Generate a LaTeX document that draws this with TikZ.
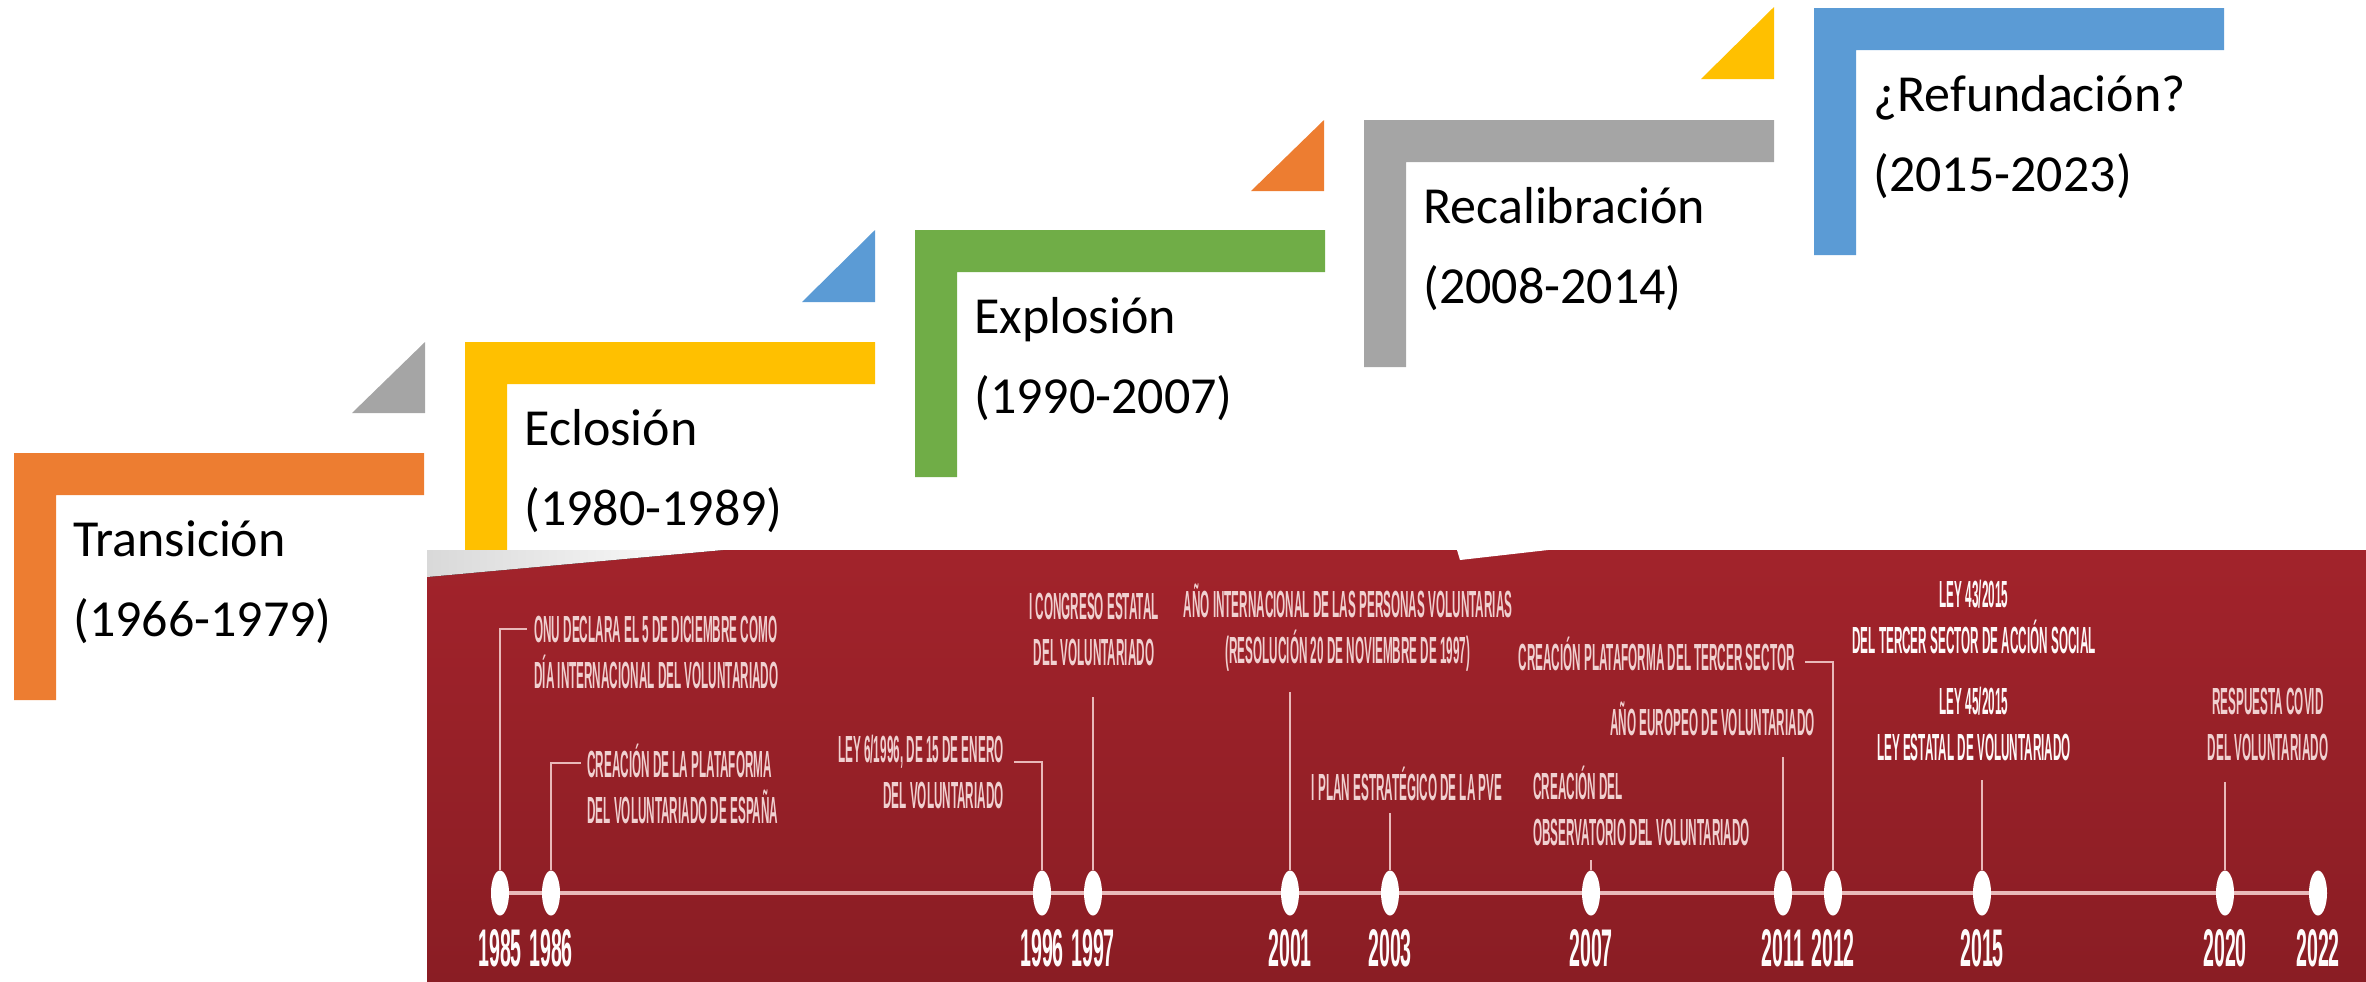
\documentclass[tikz,border=0pt]{standalone}
\usepackage{fontspec}
\setmainfont{Carlito}
\newfontfamily\evfont[FakeStretch=0.31]{Liberation Sans}
\newfontfamily\yrfont[FakeStretch=0.37]{Liberation Sans}
\usepackage{tikz}
\usetikzlibrary{shapes.geometric}

\definecolor{stOrange}{HTML}{ED7D31}
\definecolor{stYellow}{HTML}{FFC000}
\definecolor{stGreen}{HTML}{70AD47}
\definecolor{stGray}{HTML}{A5A5A5}
\definecolor{stBlue}{HTML}{5B9BD5}
\definecolor{panelTop}{HTML}{A2232B}
\definecolor{panelBot}{HTML}{8A1D24}
\definecolor{evPink}{HTML}{F0D0D0}
\definecolor{lnPink}{HTML}{E9B9B9}

\begin{document}
\begin{tikzpicture}[x=0.5pt, y=-0.5pt,
    stage/.style={anchor=base west, align=left, inner sep=0, font=\fontsize{26}{40}\selectfont},
    event/.style={inner sep=0, text=evPink, font=\evfont\bfseries\fontsize{18.9}{23}\selectfont},
    year/.style={anchor=base, inner sep=0, text=white!92!evPink, font=\yrfont\bfseries\fontsize{26.5}{27}\selectfont},
    dot/.style={ellipse, fill=white, minimum width=9pt, minimum height=22.5pt, inner sep=0},
    link/.style={draw=lnPink, line width=1pt}]
    \useasboundingbox (0,0) rectangle (2366,981);

    \fill[stOrange] (14,453) -- (424,453) -- (424,495) -- (56,495) -- (56,700) -- (14,700) -- cycle;
    \node[stage] (transicion) at (73,636) {Transición\\(1966-1979)};

    \fill[stGray] (352,413) -- (425,413) -- (425,342) -- cycle;
    \fill[stYellow] (465,342) -- (875,342) -- (875,384) -- (507,384) -- (507,589) -- (465,589) -- cycle;
    \node[stage] (eclosion) at (524,525) {Eclosión\\(1980-1989)};

    \fill[stBlue] (802,302) -- (875,302) -- (875,230) -- cycle;
    \fill[stGreen] (915,230) -- (1325,230) -- (1325,272) -- (957,272) -- (957,477) -- (915,477) -- cycle;
    \node[stage] (explosion) at (974,413) {Explosión\\(1990-2007)};

    \fill[stOrange] (1251,191) -- (1324,191) -- (1324,120) -- cycle;
    \fill[stGray] (1364,120) -- (1774,120) -- (1774,162) -- (1406,162) -- (1406,367) -- (1364,367) -- cycle;
    \node[stage] (recalibracion) at (1423,303) {Recalibración\\(2008-2014)};

    \fill[stYellow] (1701,79) -- (1774,79) -- (1774,7) -- cycle;
    \fill[stBlue] (1814,8) -- (2224,8) -- (2224,50) -- (1856,50) -- (1856,255) -- (1814,255) -- cycle;
    \node[stage] (refundacion) at (1873,191) {¿Refundación?\\(2015-2023)};

    \fill[top color=panelTop, bottom color=panelBot] (427,550) rectangle (2366,981);
    \fill[left color=gray!30, right color=white] (427,550) -- (723,550) -- (427,577) -- cycle;
    \fill[white] (1457,550) -- (1548,550) -- (1460,560) -- cycle;

    \coordinate (axL) at (500,893);
    \coordinate (axR) at (2318,893);
    \draw[lnPink, line width=2pt] (axL) -- (axR);

    \node[dot] (e85) at (500,893) {};
    \node[dot] (e86) at (551,893) {};
    \node[dot] (e96) at (1042,893) {};
    \node[dot] (e97) at (1093,893) {};
    \node[dot] (e01) at (1290,893) {};
    \node[dot] (e03) at (1390,893) {};
    \node[dot] (e07) at (1591,893) {};
    \node[dot] (e11) at (1783,893) {};
    \node[dot] (e12) at (1833,893) {};
    \node[dot] (e15) at (1982,893) {};
    \node[dot] (e20) at (2225,893) {};
    \node[dot] (e22) at (2318,893) {};

    \node[year] (y85) at (500,966.5) {1985};
    \node[year] (y86) at (551,966.5) {1986};
    \node[year] (y96) at (1042,966.5) {1996};
    \node[year] (y97) at (1093,966.5) {1997};
    \node[year] (y01) at (1290,966.5) {2001};
    \node[year] (y03) at (1390,966.5) {2003};
    \node[year] (y07) at (1591,966.5) {2007};
    \node[year] (y11) at (1783,966.5) {2011};
    \node[year] (y12) at (1833,966.5) {2012};
    \node[year] (y15) at (1982,966.5) {2015};
    \node[year] (y20) at (2225,966.5) {2020};
    \node[year] (y22) at (2318,966.5) {2022};

    \node[event, anchor=base west, align=left] (t85) at (534,688.5) {ONU DECLARA EL 5 DE DICIEMBRE COMO\\DÍA INTERNACIONAL DEL VOLUNTARIADO};
    \node[event, anchor=base west, align=left] (t86) at (587,823.5) {CREACIÓN DE LA PLATAFORMA\\DEL VOLUNTARIADO DE ESPAÑA};
    \node[event, anchor=base east, align=right] (t96) at (1004,808.5) {LEY 6/1996, DE 15 DE ENERO\\DEL VOLUNTARIADO};
    \node[event, anchor=base, align=center] (t97) at (1094,665.5) {I CONGRESO ESTATAL\\DEL VOLUNTARIADO};
    \node[event, anchor=base, align=center] (t01) at (1348,663.5) {AÑO INTERNACIONAL DE LAS PERSONAS VOLUNTARIAS\\(RESOLUCIÓN 20 DE NOVIEMBRE DE 1997)};
    \node[event, anchor=base] (t03) at (1407,800.5) {I PLAN ESTRATÉGICO DE LA PVE};
    \node[event, anchor=base west, align=left] (t07) at (1533,845.5) {CREACIÓN DEL\\OBSERVATORIO DEL VOLUNTARIADO};
    \node[event, anchor=base east] (t11) at (1815,735.5) {AÑO EUROPEO DE VOLUNTARIADO};
    \node[event, anchor=base east] (t12) at (1795,670.5) {CREACIÓN PLATAFORMA DEL TERCER SECTOR};
    \node[event, anchor=base, align=center, text=white!85!evPink] (t15a) at (1974,653.5) {LEY 43/2015\\DEL TERCER SECTOR DE ACCIÓN SOCIAL};
    \node[event, anchor=base, align=center, text=white!85!evPink] (t15b) at (1974,760.5) {LEY 45/2015\\LEY ESTATAL DE VOLUNTARIADO};
    \node[event, anchor=base, align=center] (t20) at (2268,760.5) {RESPUESTA COVID\\DEL VOLUNTARIADO};

    \coordinate (c85) at (527,629);
    \coordinate (c86) at (581,763);
    \coordinate (c96) at (1014,762);
    \coordinate (c97) at (1093,697);
    \coordinate (c01) at (1290,692);
    \coordinate (c03) at (1390,813);
    \coordinate (c07) at (1591,860);
    \coordinate (c11) at (1783,757);
    \coordinate (c12) at (1805,662);
    \coordinate (c15) at (1982,780);
    \coordinate (c20) at (2225,782);

    \draw[link] (e85.north) |- (c85);
    \draw[link] (e86.north) |- (c86);
    \draw[link] (e96.north) |- (c96);
    \draw[link] (e97.north) -- (c97);
    \draw[link] (e01.north) -- (c01);
    \draw[link] (e03.north) -- (c03);
    \draw[link] (e07.north) -- (c07);
    \draw[link] (e11.north) -- (c11);
    \draw[link] (e12.north) |- (c12);
    \draw[link] (e15.north) -- (c15);
    \draw[link] (e20.north) -- (c20);
\end{tikzpicture}
\end{document}
